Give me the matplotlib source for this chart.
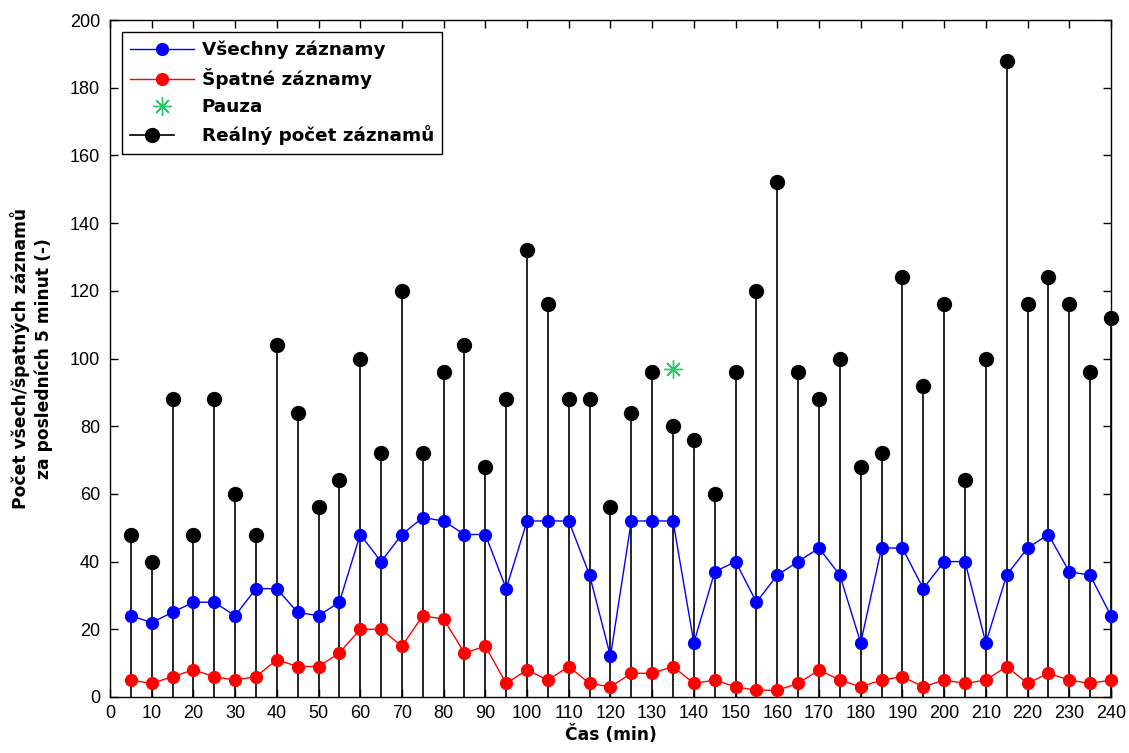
import numpy as np
import matplotlib
matplotlib.use('Agg')
import matplotlib.pyplot as plt
from matplotlib.lines import Line2D
from matplotlib.legend_handler import HandlerLine2D

# time axis in minutes (5 minute windows)
cas = np.arange(5, 241, 5)

# all records in last 5 minutes
vsechny = [24, 22, 25, 28, 28, 24, 32, 32, 25, 24, 28, 48, 40, 48, 53, 52,
           48, 48, 32, 52, 52, 52, 36, 12, 52, 52, 52, 16, 37, 40, 28, 36,
           40, 44, 36, 16, 44, 44, 32, 40, 40, 16, 36, 44, 48, 37, 36, 24]

# bad records in last 5 minutes
spatne = [5, 4, 6, 8, 6, 5, 6, 11, 9, 9, 13, 20, 20, 15, 24, 23,
          13, 15, 4, 8, 5, 9, 4, 3, 7, 7, 9, 4, 5, 3, 2, 2,
          4, 8, 5, 3, 5, 6, 3, 5, 4, 5, 9, 4, 7, 5, 4, 5]

# real number of records
realne = [48, 40, 88, 48, 88, 60, 48, 104, 84, 56, 64, 100, 72, 120, 72, 96,
          104, 68, 88, 132, 116, 88, 88, 56, 84, 96, 80, 76, 60, 96, 120, 152,
          96, 88, 100, 68, 72, 124, 92, 116, 64, 100, 188, 116, 124, 116, 96, 112]

# pause marker
pauza_x = [135]
pauza_y = [97]


class StemLegendHandler(HandlerLine2D):
    """Shorter legend line with the marker at its end, like a stem plot."""
    def get_xdata(self, legend, xdescent, ydescent, width, height, fontsize):
        xdata, _ = super().get_xdata(legend, xdescent, ydescent, width, height, fontsize)
        x0, x1 = xdata[0], xdata[-1]
        xend = x0 + 0.68 * (x1 - x0)
        return [x0, xend], [xend]


plt.rcParams['font.family'] = ['Liberation Sans', 'DejaVu Sans']
bold_font = {'family': 'DejaVu Sans', 'weight': 'bold', 'size': 12.3}
legend_font = {'family': 'DejaVu Sans', 'weight': 'bold', 'size': 13.2}

fig = plt.figure(figsize=(11.29, 7.53), dpi=100)
ax = fig.add_axes([0.0974, 0.0744, 0.8866, 0.899])

# stems for the real count
ax.vlines(cas, 0, realne, colors='black', linewidth=1.2, zorder=1, clip_on=False)
ax.plot(cas, realne, 'o', color='black', markersize=10, zorder=2, clip_on=False)

ax.plot(cas, vsechny, '-o', color='blue', markersize=8.5, linewidth=1.0,
        zorder=3, clip_on=False)
ax.plot(cas, spatne, '-o', color='red', markersize=8.5, linewidth=1.0,
        zorder=3, clip_on=False)
ax.plot(pauza_x, pauza_y, linestyle='none', marker=(8, 2, 0), color='#22cc66',
        markersize=13, markeredgewidth=1.0, zorder=3)

ax.set_xlim(0, 240)
ax.set_ylim(0, 200)
ax.set_xticks(np.arange(0, 241, 10))
ax.set_yticks(np.arange(0, 201, 20))
ax.tick_params(direction='in', top=True, right=True, length=6, width=1,
               labelsize=13)
ax.tick_params(axis='y', pad=7)
ax.tick_params(axis='x', pad=6)
for s in ax.spines.values():
    s.set_linewidth(1.0)

ax.set_xlabel('Čas (min)', fontdict=bold_font, labelpad=2)
ax.set_ylabel('Počet všech/špatných záznamů\nza posledních 5 minut (-)',
              fontdict=bold_font, labelpad=12, linespacing=1.35)

handles = [
    Line2D([], [], color='blue', marker='o', markersize=8.5, linewidth=1.0),
    Line2D([], [], color='red', marker='o', markersize=8.5, linewidth=1.0),
    Line2D([], [], color='#22cc66', marker=(8, 2, 0), linestyle='none',
           markersize=13, markeredgewidth=1.0),
    Line2D([], [], color='black', marker='o', markersize=10, linewidth=1.2),
]
labels = ['Všechny záznamy', 'Špatné záznamy', 'Pauza', 'Reálný počet záznamů']
leg = ax.legend(handles, labels, loc='upper left', bbox_to_anchor=(0.012, 0.982),
                fancybox=False, edgecolor='black', framealpha=1, borderaxespad=0,
                handlelength=3.5, handletextpad=0.4, labelspacing=0.5,
                borderpad=0.45, prop=legend_font,
                handler_map={handles[3]: StemLegendHandler()})
leg.get_frame().set_linewidth(1.0)

fig.savefig('out.png', dpi=100, facecolor='white')
